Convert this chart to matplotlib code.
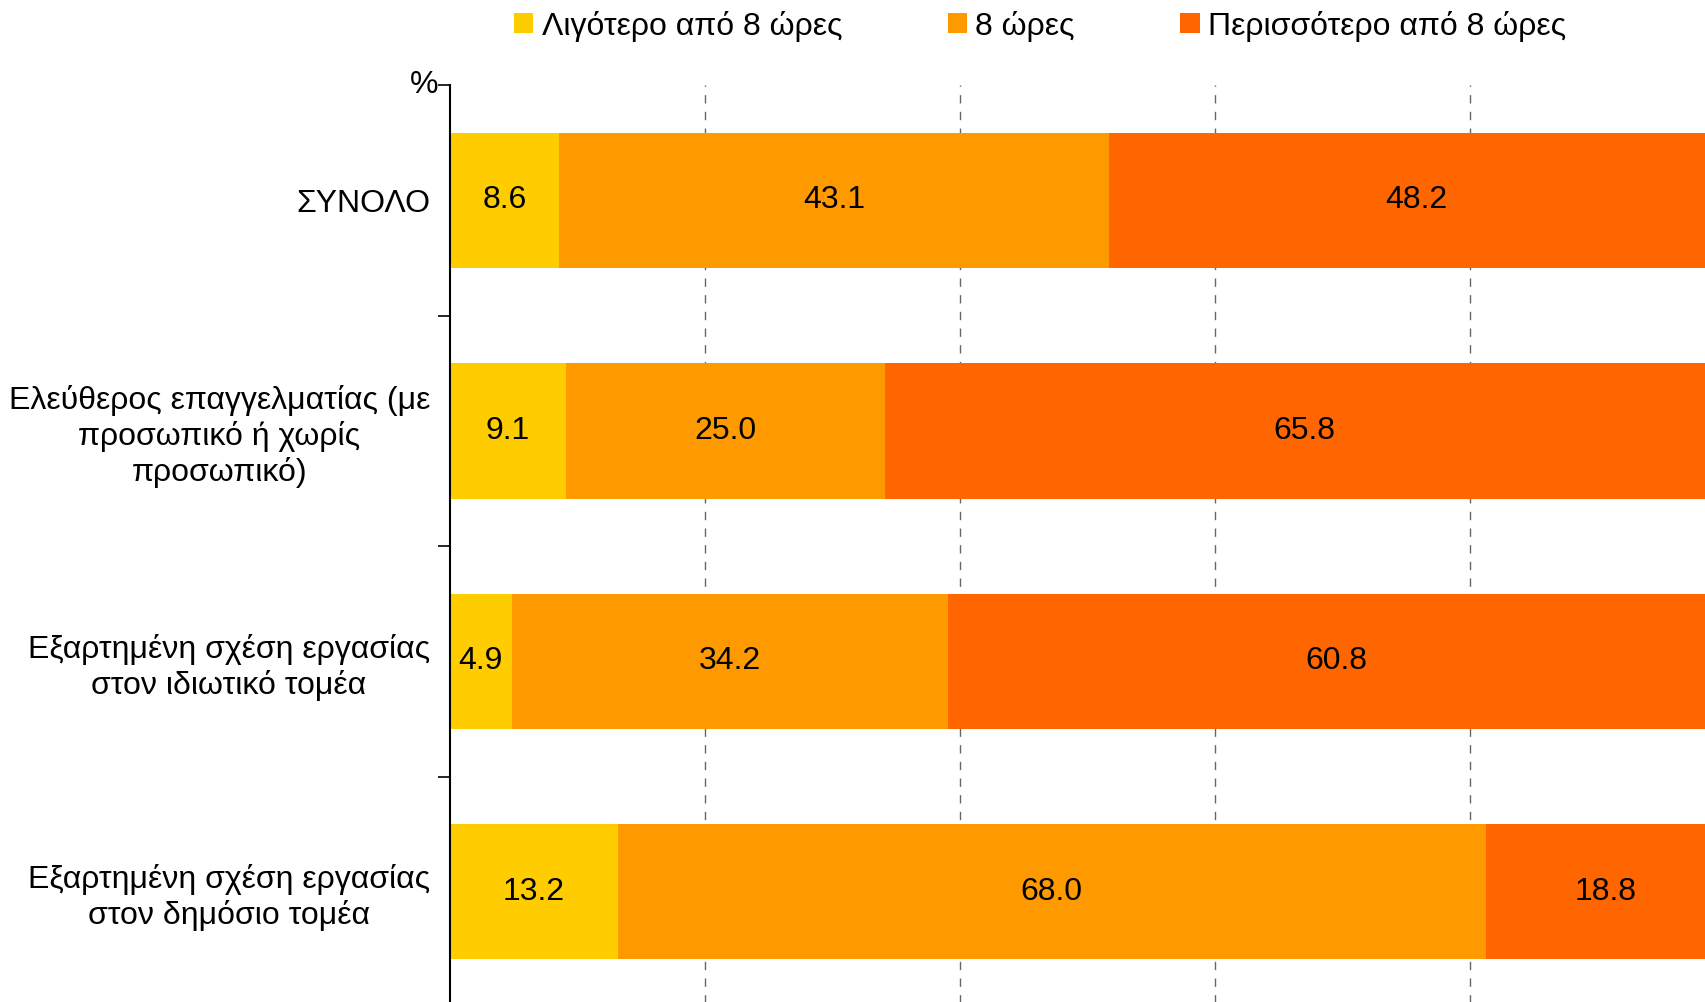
import matplotlib
matplotlib.use('Agg')
import matplotlib.pyplot as plt
import numpy as np

plt.rcParams['font.family'] = ['Liberation Sans', 'DejaVu Sans']

categories = [
    "ΣΥΝΟΛΟ",
    "Ελεύθερος επαγγελματίας (με\nπροσωπικό ή χωρίς\nπροσωπικό)",
    "Εξαρτημένη σχέση εργασίας\nστον ιδιωτικό τομέα",
    "Εξαρτημένη σχέση εργασίας\nστον δημόσιο τομέα",
]
series_names = ["Λιγότερο από 8 ώρες", "8 ώρες", "Περισσότερο από 8 ώρες"]
less_8 = [8.6, 9.1, 4.9, 13.2]
exactly_8 = [43.1, 25.0, 34.2, 68.0]
more_8 = [48.2, 65.8, 60.8, 18.8]
colors = ["#FFCC00", "#FF9900", "#FF6600"]

fig = plt.figure(figsize=(17.06, 10.02), dpi=100)
ax = fig.add_axes([0.2635, -0.005, 0.748, 0.92])

y = np.arange(len(categories))
left = np.zeros(len(categories))
for vals, name, col in zip([less_8, exactly_8, more_8], series_names, colors):
    vals = np.array(vals)
    ax.barh(y, vals, left=left, height=0.587, color=col, label=name, zorder=2)
    for yi, l, v in zip(y, left, vals):
        ax.text(l + v / 2, yi, f"{v:.1f}", ha='center', va='center', fontsize=23, zorder=3)
    left += vals

ax.set_xlim(0, 100)
ax.set_ylim(len(categories) - 0.5, -0.5)
ax.set_xticks([20, 40, 60, 80])
ax.xaxis.grid(True, linestyle=(0, (6, 6)), color='#666666', linewidth=1, zorder=0)
ax.tick_params(axis='x', length=0, labelbottom=False)

ax.set_yticks(y)
ax.set_yticklabels(categories, fontsize=23, multialignment='center')
ax.set_yticks(np.arange(-0.5, len(categories), 1), minor=True)
ax.tick_params(axis='y', which='major', length=0, pad=14)
ax.tick_params(axis='y', which='minor', length=9, width=1.2, direction='out')

for s in ['top', 'right', 'bottom']:
    ax.spines[s].set_visible(False)
ax.spines['left'].set_linewidth(1.5)

ax.text(-0.009, 1.0, "%", transform=ax.transAxes, ha='right', va='center', fontsize=23)

fig.legend(loc='center', bbox_to_anchor=(0.6097, 0.974), ncol=3, frameon=False,
           fontsize=23, handlelength=0.6, handleheight=0.6, handletextpad=0.27,
           columnspacing=3.3)

fig.savefig('out.png', dpi=100)
